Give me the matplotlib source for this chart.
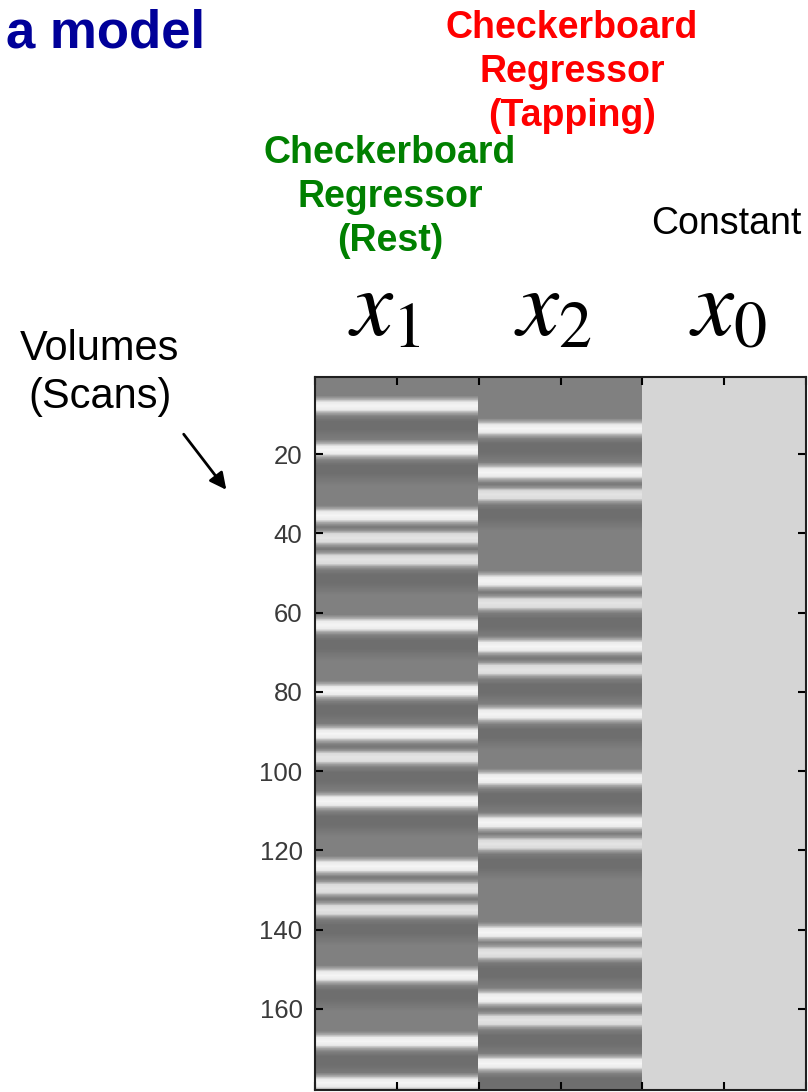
import numpy as np
import matplotlib.pyplot as plt

plt.rcParams['font.family'] = ['Liberation Sans', 'DejaVu Sans']
plt.rcParams['mathtext.fontset'] = 'stix'

W, H = 808, 1092
n_scans = 180

# scan at which each checkerboard event peaks
rest_peaks = [7.8, 18.9, 35.5, 41.1, 46.6, 63.1, 79.7, 90.6, 96.5, 107.6,
              124.0, 129.6, 135.0, 151.6, 168.2, 178.7]
tap_peaks = [13.5, 24.6, 30.2, 52.0, 57.6, 68.5, 74.3, 85.6, 101.9, 113.0,
             118.4, 140.7, 145.9, 157.3, 162.9, 173.8]
constant_level = 1.0

# response shape around each event (offset in scans -> amplitude)
shape_offsets = [-2.6, -1.7, -1.0, 0.0, 1.0, 1.7, 2.6, 3.8, 6.0, 9.0]
shape_levels = [0.0, 0.5, 1.25, 1.38, 1.25, 0.5, 0.0, -0.2, -0.2, 0.0]

sub = 10
t = 0.5 + (np.arange(n_scans * sub) + 0.5) / sub


def regressor(peaks):
    col = np.zeros_like(t)
    for p in peaks:
        col += np.interp(t - p, shape_offsets, shape_levels, left=0, right=0)
    return col


X = np.column_stack([regressor(rest_peaks), regressor(tap_peaks),
                     np.full_like(t, constant_level)])

fig = plt.figure(figsize=(W / 100, H / 100), dpi=100)
ax = fig.add_axes([315 / W, 2 / H, 491 / W, 713 / H])
ax.imshow(X, cmap='gray', vmin=-1.5, vmax=1.5, aspect='auto',
          extent=[0.5, 3.5, n_scans + 0.5, 0.5], interpolation='nearest')
ax.set_xticks(np.arange(0.5, 3.51, 0.5))
ax.set_yticks(range(20, 161, 20))
ax.tick_params(direction='in', top=True, right=True, length=6, width=1.5,
               labelbottom=False, labelsize=18.5, labelcolor='#3a3a3a', pad=9)
for s in ax.spines.values():
    s.set_linewidth(1.5)
    s.set_color('#202020')


def px(x, y):
    return x / W, 1 - y / H


fig.text(*px(205, 48), 'a model', ha='right', va='baseline', fontsize=38,
         fontweight='bold', color='#000099')

tap_lines = ['Checkerboard', 'Regressor', '(Tapping)']
rest_lines = ['Checkerboard', 'Regressor', '(Rest)']
for i, line in enumerate(tap_lines):
    fig.text(*px(572, 38 + 44 * i), line, ha='center', va='baseline',
             fontsize=27, fontweight='bold', color='#ff0000')
for i, line in enumerate(rest_lines):
    fig.text(*px(390, 163 + 44 * i), line, ha='center', va='baseline',
             fontsize=27, fontweight='bold', color='#008000')

fig.text(*px(726, 234), 'Constant', ha='center', va='baseline', fontsize=27,
         color='black')

for x, lbl in zip([384, 553, 728], ['$x_1$', '$x_2$', '$x_0$']):
    fig.text(*px(x, 335), lbl, ha='center', va='baseline', fontsize=68)

fig.text(*px(100, 360), 'Volumes', ha='center', va='baseline', fontsize=30)
fig.text(*px(100, 408), '(Scans)', ha='center', va='baseline', fontsize=30)

ax.annotate('', xy=px(228, 492), xytext=px(182, 432),
            xycoords='figure fraction', textcoords='figure fraction',
            arrowprops=dict(arrowstyle='-|>', color='black', lw=2,
                            mutation_scale=25))

fig.savefig('out.png', dpi=100)
